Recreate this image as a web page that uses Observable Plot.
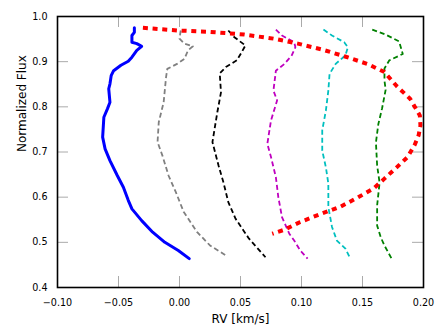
<!DOCTYPE html>
<html>
<head>
<meta charset="utf-8">
<script src="https://cdn.jsdelivr.net/npm/d3@7"></script>
<script src="https://cdn.jsdelivr.net/npm/@observablehq/plot@0.6"></script>
<style>
  html, body { margin: 0; padding: 0; background: white; }
  svg { display: block; }
</style>
</head>
<body>
<div id="chart"></div>
<script>
// Tick values
const xTicks = [-0.10, -0.05, 0.00, 0.05, 0.10, 0.15, 0.20];
const yTicks = [0.4, 0.5, 0.6, 0.7, 0.8, 0.9, 1.0];
const xLabel = "RV [km/s]";
const yLabel = "Normalized Flux";

// Series: RV (x) and normalized flux (y)
const blueRV   = [-0.037,-0.037,-0.039,-0.039,-0.035,-0.031,-0.035,-0.039,-0.042,-0.048,-0.054,-0.056,-0.057,-0.058,-0.057,-0.059,-0.062,-0.063,-0.061,-0.057,-0.051,-0.046,-0.042,-0.039,-0.031,-0.022,-0.012,-0.001,0.008];
const blueFlux = [0.975,0.965,0.958,0.943,0.940,0.934,0.925,0.910,0.901,0.892,0.880,0.869,0.851,0.840,0.810,0.796,0.777,0.733,0.707,0.681,0.648,0.622,0.593,0.574,0.548,0.5225,0.500,0.482,0.464];

const greyRV   = [0.001,0.000,0.004,0.011,0.007,0.004,-0.002,-0.010,-0.011,-0.013,-0.017,-0.018,-0.014,-0.009,-0.003,0.0035,0.0145,0.025,0.038];
const greyFlux = [0.969,0.951,0.940,0.934,0.925,0.906,0.895,0.884,0.866,0.810,0.766,0.722,0.692,0.648,0.611,0.567,0.5225,0.493,0.471];

const blackRV   = [0.040,0.045,0.054,0.051,0.047,0.038,0.033,0.034,0.031,0.027,0.032,0.036,0.040,0.046,0.057,0.0705];
const blackFlux = [0.969,0.954,0.936,0.921,0.903,0.888,0.874,0.832,0.788,0.722,0.670,0.633,0.589,0.552,0.508,0.467];

const magentaRV   = [0.079,0.084,0.094,0.095,0.092,0.086,0.079,0.077,0.080,0.075,0.072,0.075,0.079,0.081,0.084,0.090,0.094,0.099,0.105];
const magentaFlux = [0.971,0.958,0.943,0.932,0.914,0.895,0.880,0.836,0.814,0.770,0.718,0.689,0.644,0.600,0.556,0.519,0.504,0.482,0.464];

const cyanRV   = [0.118,0.125,0.135,0.138,0.136,0.128,0.123,0.122,0.120,0.117,0.117,0.120,0.122,0.122,0.125,0.129,0.136,0.140];
const cyanFlux = [0.971,0.958,0.943,0.932,0.914,0.895,0.873,0.836,0.792,0.748,0.703,0.666,0.630,0.578,0.534,0.504,0.486,0.464];

const greenRV   = [0.158,0.169,0.180,0.183,0.172,0.168,0.168,0.169,0.166,0.163,0.161,0.162,0.164,0.162,0.162,0.165,0.168,0.174];
const greenFlux = [0.971,0.960,0.945,0.917,0.903,0.885,0.858,0.838,0.796,0.762,0.721,0.670,0.632,0.582,0.537,0.511,0.493,0.463];

const redRV   = [-0.030,-0.001,0.025,0.053,0.077,0.097,0.118,0.135,0.154,0.168,0.178,0.189,0.197,0.1975,0.196,0.193,0.187,0.178,0.168,0.159,0.146,0.132,0.116,0.099,0.086,0.076];
const redFlux = [0.975,0.969,0.966,0.960,0.951,0.940,0.926,0.912,0.895,0.877,0.846,0.818,0.781,0.759,0.737,0.717,0.689,0.666,0.641,0.619,0.599,0.579,0.563,0.545,0.528,0.519];

const series = [
  {rv: blueRV, flux: blueFlux, stroke: "#0000ff", width: 3, dash: null, cap: "round"},
  {rv: greyRV, flux: greyFlux, stroke: "#808080", width: 1.8, dash: "5,3", cap: "butt"},
  {rv: blackRV, flux: blackFlux, stroke: "#000000", width: 1.8, dash: "5,3", cap: "butt"},
  {rv: magentaRV, flux: magentaFlux, stroke: "#bf00bf", width: 1.8, dash: "5,3", cap: "butt"},
  {rv: cyanRV, flux: cyanFlux, stroke: "#00bfbf", width: 1.8, dash: "5,3", cap: "butt"},
  {rv: greenRV, flux: greenFlux, stroke: "#008000", width: 1.8, dash: "5,3", cap: "butt"},
  {rv: redRV, flux: redFlux, stroke: "#ff0000", width: 4, dash: "5,4.7", cap: "butt"}
];

const W = 436, H = 327;
const mL = 57, mR = 13, mT = 16, mB = 40;
const innerW = W - mL - mR, innerH = H - mT - mB;
const tickLen = 11;
const tickColor = "#aaaaaa";

const lineMarks = series.map(s => Plot.line(
  s.rv.map((v, i) => ({rv: v, flux: s.flux[i]})),
  {x: "rv", y: "flux", stroke: s.stroke, strokeWidth: s.width,
   strokeDasharray: s.dash, strokeLinecap: s.cap, strokeLinejoin: "round", curve: "linear"}
));

const chart = Plot.plot({
  width: W, height: H,
  marginLeft: mL, marginRight: mR, marginTop: mT, marginBottom: mB,
  style: {fontFamily: "DejaVu Sans", fontSize: "9.6px", background: "white", color: "black", overflow: "visible"},
  x: {domain: [-0.1, 0.2]},
  y: {domain: [0.4, 1.0]},
  marks: [
    Plot.axisX({ticks: xTicks, tickSize: 0, tickPadding: 12, tickFormat: d3.format(".2f"), label: null, fontSize: 9.6}),
    Plot.axisY({ticks: yTicks, tickSize: 0, tickPadding: 10, tickFormat: d3.format(".1f"), label: null, fontSize: 9.6}),
    Plot.tickX(xTicks, {x: d => d, stroke: tickColor, strokeWidth: 1, insetBottom: innerH - tickLen}),
    Plot.tickX(xTicks, {x: d => d, stroke: tickColor, strokeWidth: 1, insetTop: innerH - tickLen}),
    Plot.tickY(yTicks, {y: d => d, stroke: tickColor, strokeWidth: 1, insetRight: innerW - tickLen}),
    Plot.tickY(yTicks, {y: d => d, stroke: tickColor, strokeWidth: 1, insetLeft: innerW - tickLen}),
    ...lineMarks,
    Plot.frame({stroke: "black", strokeWidth: 1.6}),
    Plot.text([xLabel], {text: d => d, frameAnchor: "bottom", dy: 35, lineAnchor: "bottom", fontSize: 12, fill: "black"}),
    Plot.text([yLabel], {text: d => d, frameAnchor: "left", dx: -32, rotate: -90, lineAnchor: "bottom", fontSize: 12, fill: "black"})
  ]
});
document.getElementById("chart").appendChild(chart);
</script>
</body>
</html>
